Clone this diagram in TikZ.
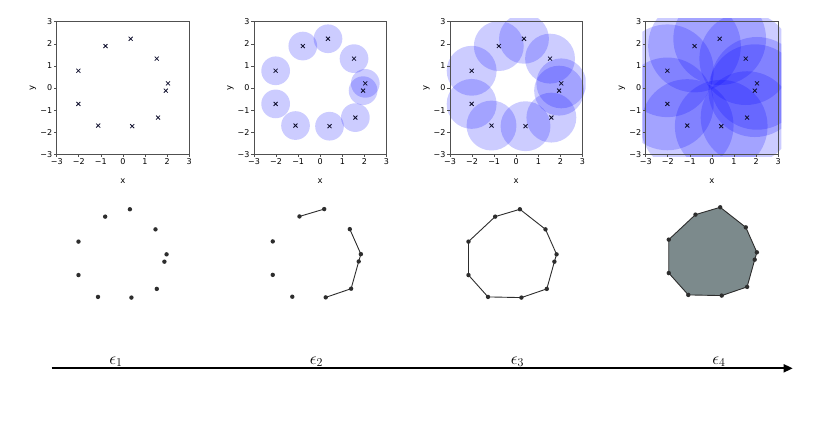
\documentclass[tikz,border=0pt]{standalone}
\usepackage{fontspec}
\newfontfamily\dejavu{DejaVu Sans}
\usetikzlibrary{arrows.meta}
\definecolor{spinec}{RGB}{80,80,80}
\definecolor{dotc}{RGB}{45,45,45}
\definecolor{polyc}{RGB}{124,138,140}
\definecolor{markc}{RGB}{15,15,45}
\def\pts{0.35/2.23/1,-0.79/1.90/2,-2.02/0.78/3,-2.02/-0.72/4,-1.12/-1.70/5,0.42/-1.73/6,1.59/-1.34/7,1.94/-0.12/8,2.04/0.21/9,1.53/1.33/10}
\tikzset{
  ball/.style={fill=blue, fill opacity=0.2},
  xmark/.style={draw=markc, line width=0.8pt},
  spine/.style={draw=spinec, line width=0.7pt},
  tickm/.style={draw=spinec, line width=0.6pt},
  ticklab/.style={font=\dejavu\fontsize{8}{9}\selectfont, inner sep=0pt, text=black},
  axlab/.style={font=\dejavu\fontsize{8.5}{9}\selectfont, inner sep=0pt, text=black},
  ptdot/.style={circle, fill=dotc, inner sep=0pt, minimum size=4.4pt},
  edgeline/.style={draw=dotc, line width=0.9pt},
  epslab/.style={font=\fontsize{18}{20}\selectfont, inner sep=0pt, anchor=base},
}
\newcommand\plotpanel[3]{% #1 centre x, #2 radius, #3 name prefix
 \begin{scope}[shift={(#1,88)},x=22.08pt,y=22.08pt]
  \ifdim #2pt>0pt
   \begin{scope}
    \clip (-3.15,-3.12) rectangle (3.14,3.15);
    \foreach \px/\py/\i in \pts {\fill[ball] (\px,\py) circle (#2);}
   \end{scope}
  \fi
  \foreach \px/\py/\i in \pts {\draw[xmark] (\px,\py) +(-2pt,-2pt) -- +(2pt,2pt) +(-2pt,2pt) -- +(2pt,-2pt);}
  \draw[spine] (-3,-3) rectangle (3,3);
  \foreach \t/\l/\k in {-3/−3/a,-2/−2/b,-1/−1/c,0/0/d,1/1/e,2/2/f,3/3/g} {
    \draw[tickm] (\t,-3) -- ++(0,-2.8pt);
    \draw[tickm] (-3,\t) -- ++(-2.8pt,0);
    \node[ticklab,anchor=north] (#3xt\k) at ([yshift=-4.3pt]\t,-3) {\l};
    \node[ticklab,anchor=east] (#3yt\k) at ([xshift=-4.3pt]-3,\t) {\l};
  }
  \node[axlab] (#3xl) at ([yshift=-27pt]0,-3) {x};
  \node[axlab,rotate=90] (#3yl) at ([xshift=-23.7pt]-3,0) {y};
 \end{scope}}
\newcommand\cplxpts[3]{% #1 x, #2 y, #3 prefix
  \begin{scope}[shift={(#1,#2)},x=21.7pt,y=22.3pt]
    \foreach \px/\py/\i in \pts {\coordinate (v#3-\i) at (\px,\py);}
  \end{scope}}
\newcommand\cplxdots[1]{%
  \foreach \i in {1,...,10} {\node[ptdot] (c#1-\i) at (v#1-\i) {};}}
\begin{document}
\begin{tikzpicture}[x=1pt,y=-1pt]
\useasboundingbox (0,0) rectangle (830,424);
\plotpanel{122.95}{0}{pa}
\plotpanel{320.25}{0.65}{pb}
\plotpanel{516.25}{1.13}{pc}
\plotpanel{711.95}{2.1}{pd}
% complexes
\cplxpts{122.3}{259.0}{1}
\cplxpts{316.6}{258.8}{2}
\cplxpts{512.3}{259.0}{3}
\cplxpts{712.6}{257.0}{4}
\draw[edgeline] (v2-1) -- (v2-2);
\draw[edgeline] (v2-10) -- (v2-9) -- (v2-8) -- (v2-7) -- (v2-6);
\draw[edgeline] (v3-1) -- (v3-2) -- (v3-3) -- (v3-4) -- (v3-5) -- (v3-6) -- (v3-7) -- (v3-8) -- (v3-9) -- (v3-10) -- cycle;
\fill[polyc] (v4-1) -- (v4-2) -- (v4-3) -- (v4-4) -- (v4-5) -- (v4-6) -- (v4-7) -- (v4-8) -- (v4-9) -- (v4-10) -- cycle;
\draw[edgeline] (v4-1) -- (v4-2) -- (v4-3) -- (v4-4) -- (v4-5) -- (v4-6) -- (v4-7) -- (v4-8) -- (v4-9) -- (v4-10) -- cycle;
\cplxdots{1}
\cplxdots{2}
\cplxdots{3}
\cplxdots{4}
% axis
\coordinate (a0) at (51.7,368.3);
\coordinate (a1) at (792.7,368.3);
\draw[line width=1.8pt, -{Triangle[length=9pt,width=8pt]}] (a0) -- (a1);
\node[epslab] (e1) at (116,364) {$\epsilon_1$};
\node[epslab] (e2) at (316.5,364) {$\epsilon_2$};
\node[epslab] (e3) at (517.5,364) {$\epsilon_3$};
\node[epslab] (e4) at (719,364) {$\epsilon_4$};
\end{tikzpicture}
\end{document}
